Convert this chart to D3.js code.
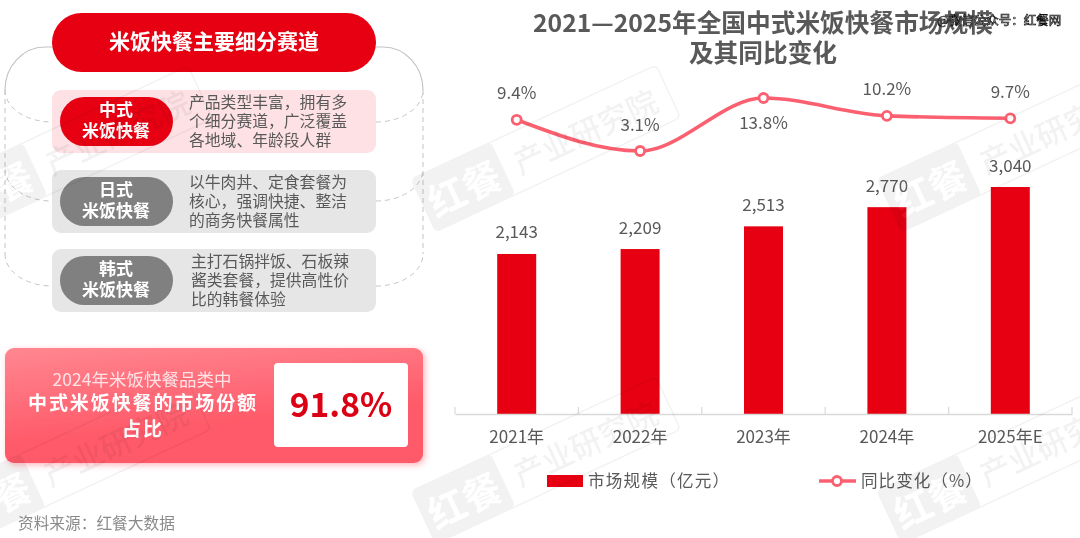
<!DOCTYPE html>
<html>
<head>
<meta charset="utf-8">
<script src="https://cdn.jsdelivr.net/npm/d3@7"></script>
<style>
  html, body { margin: 0; padding: 0; background: #fff; }
  svg { display: block; }
  text { font-family: "Noto Sans CJK SC", "Noto Sans", sans-serif; }
</style>
</head>
<body>
<svg id="chart" width="1080" height="538"></svg>
<script>
// Chart data
var years = ["2021年", "2022年", "2023年", "2024年", "2025年E"];
var marketSize = [2143, 2209, 2513, 2770, 3040];
var yoyChange = [9.4, 3.1, 13.8, 10.2, 9.7];

// Left panel copy
var trackNames = ["中式", "日式", "韩式"];
var trackLines = [
  ["产品类型丰富，拥有多", "个细分赛道，广泛覆盖", "各地域、年龄段人群"],
  ["以牛肉丼、定食套餐为", "核心，强调快捷、整洁", "的商务快餐属性"],
  ["主打石锅拌饭、石板辣", "酱类套餐，提供高性价", "比的韩餐体验"]
];

var root = d3.select("#chart");
// The original is a soft, upscaled image, so everything but the stamp gets a slight blur
var svg = root.append("g").style("filter", "blur(0.4px)");
var grey = "#595959";
var red = "#e60012";
var pink = "#fa6070";

var defs = root.append("defs");
var grad = defs.append("linearGradient").attr("id", "panelFill")
  .attr("x1", "0").attr("y1", "0").attr("x2", "0.35").attr("y2", "1");
grad.append("stop").attr("offset", "0").attr("stop-color", "#ff8791");
grad.append("stop").attr("offset", "0.75").attr("stop-color", "#ff5a69");
grad.append("stop").attr("offset", "1").attr("stop-color", "#ff5a69");
var shadow = defs.append("filter").attr("id", "panelShadow")
  .attr("x", "-5%").attr("y", "-10%").attr("width", "110%").attr("height", "125%");
shadow.append("feDropShadow").attr("dx", 2).attr("dy", 2).attr("stdDeviation", 3)
  .attr("flood-color", "#ff5a69").attr("flood-opacity", 0.45);

// ---- Left side: bracket lines behind the rows ----
var bracket = svg.append("g").attr("fill", "none").attr("stroke", "#c4c4c4");
bracket.append("path").attr("stroke-width", 1.2)
  .attr("d", "M52,47 H45 A40,43 0 0 0 5,90 M376,47 H383 A40,43 0 0 1 423,90");
var rowEnds = [122, 201, 286];
rowEnds.forEach((yEnd) => {
  bracket.append("path").attr("stroke-dasharray", "5 4")
    .attr("d", `M5,${yEnd - 32} A47,32 0 0 0 52,${yEnd} M376,${yEnd} A47,32 0 0 0 423,${yEnd - 32}`);
});
bracket.append("path").attr("stroke-dasharray", "5 4")
  .attr("d", "M5,90 V254 M423,90 V254");

// Header pill
svg.append("rect").attr("x", 52).attr("y", 13).attr("width", 324).attr("height", 59)
  .attr("rx", 29.5).attr("fill", red);
svg.append("text").attr("x", 214).attr("y", 40).attr("text-anchor", "middle")
  .attr("dominant-baseline", "central").attr("fill", "#fff")
  .attr("font-size", 21).attr("font-weight", 700).text("米饭快餐主要细分赛道");

// Rows
var rowTops = [90, 170, 249];
var rowX = [189, 189, 191];
trackNames.forEach((name, i) => {
  var top = rowTops[i];
  var first = i === 0;
  svg.append("rect").attr("x", 52).attr("y", top).attr("width", 324).attr("height", 63)
    .attr("rx", 9).attr("fill", first ? "#fde1e4" : "#e6e6e6");
  svg.append("rect").attr("x", 60).attr("y", top + 7).attr("width", 113).attr("height", 49)
    .attr("rx", 24.5).attr("fill", first ? red : "#808080");
  [name, "米饭快餐"].forEach((t, j) => {
    svg.append("text").attr("x", 116).attr("y", top + 18 + j * 21).attr("text-anchor", "middle")
      .attr("dominant-baseline", "central").attr("fill", "#fff")
      .attr("font-size", 17).attr("font-weight", 700).text(t);
  });
  trackLines[i].forEach((t, j) => {
    svg.append("text").attr("x", rowX[i]).attr("y", top + 11 + j * 19)
      .attr("dominant-baseline", "central").attr("fill", grey)
      .attr("font-size", 15.8).text(t);
  });
});

// Share panel
svg.append("rect").attr("x", 5).attr("y", 348).attr("width", 418).attr("height", 115)
  .attr("rx", 9).attr("fill", "url(#panelFill)").attr("filter", "url(#panelShadow)");
svg.append("rect").attr("x", 274).attr("y", 363).attr("width", 134).attr("height", 84)
  .attr("rx", 4).attr("fill", "#fff");
svg.append("text").attr("x", 341).attr("y", 402).attr("text-anchor", "middle")
  .attr("dominant-baseline", "central").attr("fill", "#dc0014")
  .attr("font-size", 33.5).attr("font-weight", 700).text("91.8%");
svg.append("text").attr("x", 142).attr("y", 378).attr("text-anchor", "middle")
  .attr("dominant-baseline", "central").attr("fill", "#ffe3e6")
  .attr("font-size", 17.5).text("2024年米饭快餐品类中");
svg.append("text").attr("x", 143).attr("y", 401).attr("text-anchor", "middle")
  .attr("dominant-baseline", "central").attr("fill", "#fff")
  .attr("font-size", 19).attr("font-weight", 700).attr("letter-spacing", 1.9)
  .text("中式米饭快餐的市场份额");
svg.append("text").attr("x", 143).attr("y", 427).attr("text-anchor", "middle")
  .attr("dominant-baseline", "central").attr("fill", "#fff")
  .attr("font-size", 19).attr("font-weight", 700).attr("letter-spacing", 1.9).text("占比");

svg.append("text").attr("x", 18).attr("y", 522).attr("dominant-baseline", "central")
  .attr("fill", "#8a8a8a").attr("font-size", 15.7).text("资料来源：红餐大数据");

// ---- Right side: title ----
svg.append("text").attr("x", 763).attr("y", 21).attr("text-anchor", "middle")
  .attr("dominant-baseline", "central").attr("fill", grey)
  .attr("font-size", 24.7).attr("font-weight", 700).text("2021—2025年全国中式米饭快餐市场规模");
svg.append("text").attr("x", 763).attr("y", 51).attr("text-anchor", "middle")
  .attr("dominant-baseline", "central").attr("fill", grey)
  .attr("font-size", 24.7).attr("font-weight", 700).text("及其同比变化");

// Scales
var x = d3.scaleBand().domain(years).range([455, 1072]).paddingInner(0.684).paddingOuter(0.342);
var yBar = d3.scaleLinear().domain([0, d3.max(marketSize)]).range([414, 187]);
var yLine = d3.scaleLinear().domain(d3.extent(yoyChange)).range([151, 98]);
var cx = (d) => x(d) + x.bandwidth() / 2;

// Bars
svg.append("g").selectAll("rect").data(years).join("rect")
  .attr("x", (d) => x(d))
  .attr("width", x.bandwidth())
  .attr("y", (d, i) => yBar(marketSize[i]))
  .attr("height", (d, i) => yBar(0) - yBar(marketSize[i]))
  .attr("fill", red);

svg.append("g").selectAll("text").data(years).join("text")
  .attr("x", cx)
  .attr("y", (d, i) => yBar(marketSize[i]) - 23)
  .attr("text-anchor", "middle").attr("dominant-baseline", "central")
  .attr("fill", grey).attr("font-size", 17)
  .text((d, i) => d3.format(",")(marketSize[i]));

// X axis, ticks sit on the band edges
var axis = svg.append("g").attr("transform", "translate(0,414)")
  .call(d3.axisBottom(x).tickSize(0).tickSizeOuter(0).tickPadding(17));
axis.select(".domain").attr("stroke", "#d9d9d9").attr("stroke-width", 1.5);
axis.selectAll("text").attr("font-size", 17).attr("fill", grey)
  .attr("font-family", '"Noto Sans CJK SC", sans-serif');
var edges = years.map((d) => x(d) - x.step() * 0.342).concat([x.range()[1]]);
axis.selectAll(".edge").data(edges).join("line").attr("class", "edge")
  .attr("x1", (d) => d).attr("x2", (d) => d).attr("y1", -7).attr("y2", 0)
  .attr("stroke", "#d9d9d9").attr("stroke-width", 1.2);

// Line
var line = d3.line().x((d, i) => cx(years[i])).y((d) => yLine(d)).curve(d3.curveMonotoneX);
svg.append("path").datum(yoyChange).attr("d", line)
  .attr("fill", "none").attr("stroke", pink).attr("stroke-width", 3.6);
svg.append("g").selectAll("circle").data(yoyChange).join("circle")
  .attr("cx", (d, i) => cx(years[i])).attr("cy", (d) => yLine(d)).attr("r", 4.5)
  .attr("fill", "#fff").attr("stroke", pink).attr("stroke-width", 2.8);

// Labels sit above or below the point, whichever the original used
var labelShift = [-28, -28, 23, -28, -28];
svg.append("g").selectAll("text").data(yoyChange).join("text")
  .attr("x", (d, i) => cx(years[i]))
  .attr("y", (d, i) => yLine(d) + labelShift[i])
  .attr("text-anchor", "middle").attr("dominant-baseline", "central")
  .attr("fill", grey).attr("font-size", 17)
  .text((d) => d.toFixed(1) + "%");

// Legend
svg.append("rect").attr("x", 547).attr("y", 475).attr("width", 36).attr("height", 12).attr("fill", red);
svg.append("text").attr("x", 588).attr("y", 480).attr("dominant-baseline", "central")
  .attr("fill", grey).attr("font-size", 16.6).attr("letter-spacing", 1.2).text("市场规模（亿元）");
svg.append("line").attr("x1", 819).attr("x2", 856).attr("y1", 481).attr("y2", 481)
  .attr("stroke", pink).attr("stroke-width", 3.6);
svg.append("circle").attr("cx", 837).attr("cy", 481).attr("r", 4.5)
  .attr("fill", "#fff").attr("stroke", pink).attr("stroke-width", 2.8);
svg.append("text").attr("x", 861).attr("y", 480).attr("dominant-baseline", "central")
  .attr("fill", grey).attr("font-size", 16.6).attr("letter-spacing", 1).text("同比变化（%）");

// Watermarks
var marks = [[188, 66], [656, 65], [1122, 65], [186, 377], [656, 377], [1122, 377]];
marks.forEach((m) => {
  var g = svg.append("g").attr("opacity", 0.05)
    .attr("transform", `translate(${m[0]},${m[1]}) rotate(-25)`);
  g.append("rect").attr("x", -270).attr("y", 0).attr("width", 270).attr("height", 58)
    .attr("rx", 5).attr("fill", "none").attr("stroke", "#000").attr("stroke-width", 1.5);
  g.append("rect").attr("x", -270).attr("y", 0).attr("width", 88).attr("height", 58)
    .attr("rx", 5).attr("fill", "#000");
  g.append("text").attr("x", -226).attr("y", 29).attr("text-anchor", "middle")
    .attr("dominant-baseline", "central").attr("fill", "#fff")
    .attr("font-size", 38).attr("font-weight", 700).text("红餐");
  g.append("text").attr("x", -92).attr("y", 29).attr("text-anchor", "middle")
    .attr("dominant-baseline", "central").attr("fill", "#000")
    .attr("font-size", 31).attr("font-weight", 500).text("产业研究院");
});

// Repost stamp across the title
root.append("text").attr("x", 937).attr("y", 19).attr("dominant-baseline", "central")
  .attr("fill", "#fff").attr("stroke", "#111").attr("stroke-width", 0.7)
  .attr("font-size", 12.5).text("@微信公众号：红餐网");
</script>
</body>
</html>
